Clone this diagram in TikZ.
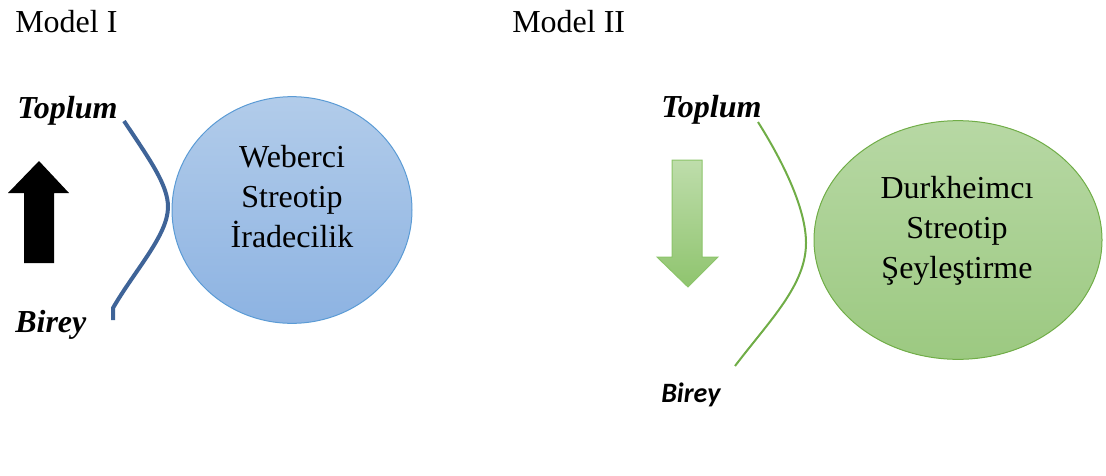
\documentclass[tikz,border=0pt]{standalone}
\usepackage{fontspec}
\setmainfont{Liberation Serif}
\newfontfamily\calibri{Carlito}
\usepackage{tikz}
\usetikzlibrary{shapes.geometric}
\usepackage{xcolor}
\definecolor{maviCizgi}{HTML}{3F6498}
\definecolor{maviUst}{HTML}{B2CCEA}
\definecolor{maviAlt}{HTML}{8DB3E2}
\definecolor{maviKenar}{HTML}{5B9BD5}
\definecolor{yesilUst}{HTML}{B7D8A4}
\definecolor{yesilAlt}{HTML}{9CC981}
\definecolor{yesilKenar}{HTML}{70AD47}
\definecolor{okUst}{HTML}{BEDDAB}
\definecolor{okAlt}{HTML}{8FC46E}
\definecolor{okKenar}{HTML}{8CC46A}

\begin{document}
\begin{tikzpicture}[x=0.75pt,y=-0.75pt,
    baslik/.style={font=\fontsize{24}{30}\selectfont,inner sep=0pt,anchor=base west},
    etiket/.style={font=\fontsize{24}{30}\selectfont\bfseries\itshape,inner sep=0pt,anchor=base west},
    etiket2/.style={font=\calibri\fontsize{21}{26}\selectfont\bfseries\itshape,inner sep=0pt,anchor=base west},
    govde/.style={font=\fontsize{24}{30}\selectfont,align=center,inner sep=0pt},
    daire/.style={ellipse,inner sep=0pt,line width=0.75pt}]
    \useasboundingbox (0,0) rectangle (1106,475);
    \node[baslik] (model1) at (15,32) {Model I};
    \node[baslik] (model2) at (512,32) {Model II};
    \node[daire,draw=maviKenar,top color=maviUst,bottom color=maviAlt,minimum width=180pt,minimum height=170pt] (weber) at (292,210) {};
    \node[govde] (webertxt) at (292,197) {Weberci\\Streotip\\İradecilik};
    \node[daire,draw=yesilKenar,top color=yesilUst,bottom color=yesilAlt,minimum width=216pt,minimum height=179pt] (durk) at (958,240) {};
    \node[govde] (durktxt) at (957,231) {Durkheimcı\\Streotip\\Şeyleştirme};
    \node[etiket] (toplum1) at (17,118) {Toplum};
    \node[etiket] (birey1) at (15,332) {Birey};
    \node[etiket] (toplum2) at (661,117) {Toplum};
    \node[etiket2] (birey2) at (661,402) {Birey};
    \coordinate (egri1a) at (124,121);
    \coordinate (egri1b) at (168,207);
    \coordinate (egri1c) at (113,308);
    \coordinate (egri1d) at (113,320);
    \coordinate (egri2a) at (758,122);
    \coordinate (egri2b) at (806,243);
    \coordinate (egri2c) at (735,366);
    \draw[maviCizgi,line width=3pt] (egri1a) .. controls (150,160) and (168,185) .. (egri1b)
        .. controls (168,235) and (135,270) .. (egri1c) -- (egri1d);
    \draw[yesilKenar,line width=1.5pt] (egri2a) .. controls (785,165) and (806,210) .. (egri2b)
        .. controls (806,285) and (770,320) .. (egri2c);
    \fill[black] (39,161) -- (69,193) -- (54,193) -- (54,263) -- (24,263) -- (24,193) -- (8,193) -- cycle;
    \draw[okKenar,line width=0.75pt,top color=okUst,bottom color=okAlt] (672,160) -- (702,160) -- (702,257) -- (718,257) -- (688,287) -- (657,257) -- (672,257) -- cycle;
\end{tikzpicture}
\end{document}
